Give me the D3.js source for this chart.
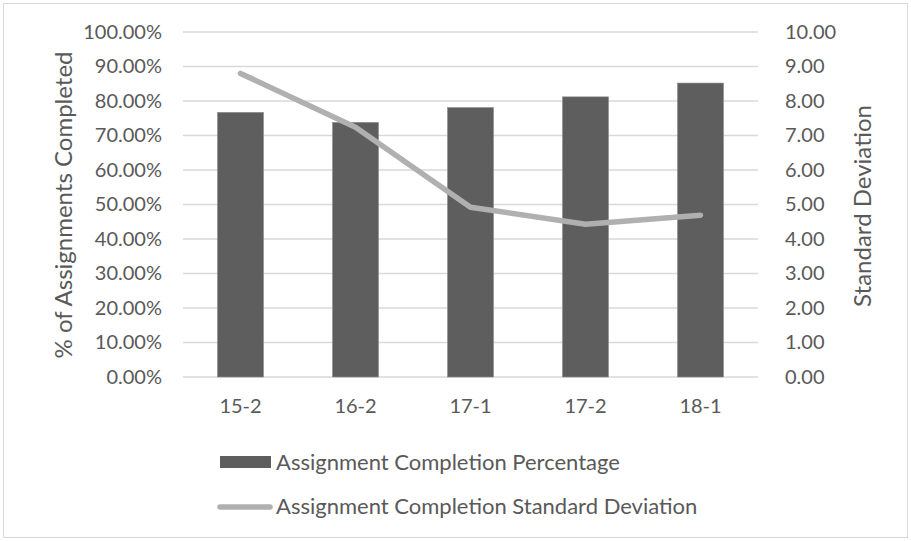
<!DOCTYPE html>
<html><head><meta charset="utf-8">
<script src="https://cdn.jsdelivr.net/npm/d3@7"></script>
<style>body{margin:0;background:#fff}svg text{font-family:Lato,"Open Sans",sans-serif;fill:#595959}</style>
</head><body><svg id="c" width="911" height="541"></svg>
<script>
const categories = ["15-2","16-2","17-1","17-2","18-1"];
const completionPct = [0.767,0.738,0.781,0.812,0.852];
const stdDev = [8.80,7.24,4.92,4.43,4.69];
const leftTicks = [0,0.1,0.2,0.3,0.4,0.5,0.6,0.7,0.8,0.9,1.0];
const rightTicks = [0,1,2,3,4,5,6,7,8,9,10];
const seriesNames = ["Assignment Completion Percentage","Assignment Completion Standard Deviation"];
const axisTitles = ["% of Assignments Completed","Standard Deviation"];

const svg = d3.select("#c");
const W=911,H=541;
svg.append("rect").attr("x",3.5).attr("y",3.5).attr("width",W-7).attr("height",H-7).attr("fill","#fff").attr("stroke","#d9d9d9");

const L=183,R=758,T=32,B=377;
const x = d3.scaleBand().domain(categories).range([L,R]).paddingInner(0.6).paddingOuter(0.3);
const yL = d3.scaleLinear().domain([0,1]).range([B,T]);
const yR = d3.scaleLinear().domain([0,10]).range([B,T]);
const fs = 20, fsL = 22, fsT = 24;

// gridlines
svg.append("g").selectAll("line").data(leftTicks).join("line")
  .attr("x1",L).attr("x2",R).attr("y1",d=>yL(d)).attr("y2",d=>yL(d))
  .attr("stroke","#d9d9d9").attr("stroke-width",1.3);

// left axis
const gl = svg.append("g").attr("transform",`translate(${L},0)`)
  .call(d3.axisLeft(yL).tickValues(leftTicks).tickFormat(d3.format(".2%")).tickSize(0).tickPadding(21));
gl.select(".domain").remove();
gl.selectAll("text").attr("font-size",fs).attr("font-family",null);

// right axis
const gr = svg.append("g").attr("transform",`translate(${R},0)`)
  .call(d3.axisRight(yR).tickValues(rightTicks).tickFormat(d3.format(".2f")).tickSize(0).tickPadding(27));
gr.select(".domain").remove();
gr.selectAll("text").attr("font-size",fs).attr("font-family",null);

// x axis
const gx = svg.append("g").attr("transform",`translate(0,${B})`)
  .call(d3.axisBottom(x).tickSize(0).tickPadding(22));
gx.select(".domain").remove();
gx.selectAll("text").attr("font-size",fs).attr("font-family",null);

// bars
svg.append("g").selectAll("rect").data(categories).join("rect")
  .attr("x",d=>x(d)).attr("width",x.bandwidth())
  .attr("y",(d,i)=>yL(completionPct[i])).attr("height",(d,i)=>B-yL(completionPct[i]))
  .attr("fill","#5e5e5e").attr("stroke","#8a8a8a").attr("stroke-width",0.6);

// line
const line = d3.line().x((d,i)=>x(categories[i])+x.bandwidth()/2).y(d=>yR(d));
svg.append("path").datum(stdDev).attr("d",line).attr("fill","none")
  .attr("stroke","#b0b0b0").attr("stroke-width",5.5).attr("stroke-linecap","round").attr("stroke-linejoin","round");

// axis titles
svg.append("text").attr("transform",`translate(72,205) rotate(-90)`).attr("text-anchor","middle")
  .attr("font-size",fsT).text(axisTitles[0]);
svg.append("text").attr("transform",`translate(871,206) rotate(-90)`).attr("text-anchor","middle")
  .attr("font-size",fsT).text(axisTitles[1]);

// legend
const lg = svg.append("g");
lg.append("rect").attr("x",220).attr("y",456).attr("width",51).attr("height",12).attr("fill","#5e5e5e");
lg.append("text").attr("x",276).attr("y",462).attr("dy","0.35em").attr("font-size",fsL).text(seriesNames[0]);
lg.append("line").attr("x1",220).attr("x2",270).attr("y1",507).attr("y2",507)
  .attr("stroke","#b0b0b0").attr("stroke-width",5.5).attr("stroke-linecap","round");
lg.append("text").attr("x",276).attr("y",506).attr("dy","0.35em").attr("font-size",fsL).text(seriesNames[1]);
</script></body></html>
